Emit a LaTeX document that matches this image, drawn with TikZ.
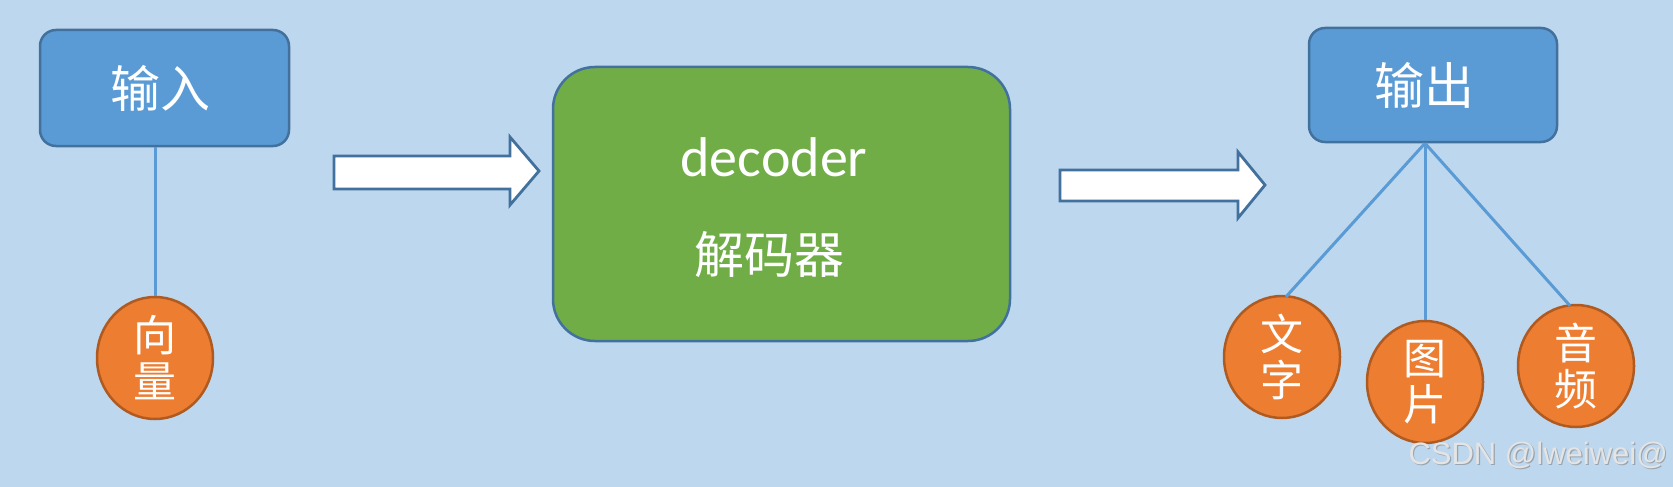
\documentclass[tikz,border=0pt]{standalone}
\usepackage{fontspec}
\setmainfont{Carlito}
\newfontfamily\cjk{Noto Sans CJK SC}
\newfontfamily\wmfont{Liberation Sans}
\definecolor{bg}{HTML}{BDD7EE}
\definecolor{boxfill}{HTML}{5B9BD5}
\definecolor{boxline}{HTML}{41719C}
\definecolor{greenfill}{HTML}{70AD47}
\definecolor{orangefill}{HTML}{ED7D31}
\definecolor{orangeline}{HTML}{AE5A21}
\definecolor{wmgray}{HTML}{E4E4E4}
\definecolor{wmshadow}{HTML}{9AA4AE}
\tikzset{
  bluebox/.style={draw=boxline, line width=2.5pt, fill=boxfill, rounded corners=16pt, inner sep=0pt},
  boxtext/.style={text=white, font=\cjk\fontsize{50}{50}\selectfont, inner sep=0pt},
  decbox/.style={draw=boxline, line width=2.5pt, fill=greenfill, rounded corners=42pt, inner sep=0pt},
  circ/.style={ellipse, draw=orangeline, line width=2.5pt, fill=orangefill, inner sep=0pt,
    minimum width=116pt, minimum height=122pt, text=white, align=center,
    font=\cjk\fontsize{43}{46}\selectfont},
  conn/.style={draw=boxfill, line width=3pt},
  blockarrow/.style={draw=boxline, line width=2.8pt, fill=white, line join=miter},
  dectext/.style={text=white, inner sep=0pt},
  wmstyle/.style={anchor=east, inner sep=0pt, font=\wmfont\fontsize{31}{31}\selectfont}
}
\usetikzlibrary{shapes.geometric}
\begin{document}
\begin{tikzpicture}[x=1pt,y=-1pt]
\fill[bg] (0,0) rectangle (1673,487);
\useasboundingbox (0,0) rectangle (1673,487);

% input side
\node[bluebox, minimum width=249pt, minimum height=116pt] (in) at (164.5,88) {};
\node[boxtext] (intext) at (160,88) {输入};
\node[circ] (vec) at (155,358) {向\\量};
\draw[conn] (vec.north |- in.south) -- (vec.north);

% arrow 1
\draw[blockarrow] (334,156) -- (510,156) -- (510,137) -- (539,171) -- (510,205) -- (510,189) -- (334,189) -- cycle;

% decoder
\node[decbox, minimum width=457pt, minimum height=274pt] (dec) at (781.5,204) {};
\node[dectext, anchor=base, font=\fontsize{56}{56}\selectfont] (decen) at (774,176) {decoder};
\node[dectext, font=\cjk\fontsize{50}{50}\selectfont] (deczh) at (769,255) {解码器};

% arrow 2
\draw[blockarrow] (1060,170) -- (1238,170) -- (1238,152) -- (1265,185) -- (1238,218) -- (1238,201) -- (1060,201) -- cycle;

% output side
\node[bluebox, minimum width=248pt, minimum height=114pt] (out) at (1433,85) {};
\node[boxtext] (outtext) at (1424,85) {输出};
\node[circ] (wz) at (1282,357) {文\\字};
\node[circ] (tp) at (1425,382) {图\\片};
\node[circ] (yp) at (1576,366) {音\\频};
\coordinate (hub) at (tp.north |- out.south);
\draw[conn] (hub) -- ([xshift=4pt,yshift=-2pt]wz.north);
\draw[conn] (hub) -- (tp.north);
\draw[conn] (hub) -- ([xshift=-6pt,yshift=-2pt]yp.north);

% watermark
\node[wmstyle, text=wmshadow] (wmsh) at (1669.2,456.2) {CSDN @lweiwei@};
\node[wmstyle, text=wmgray] (wm) at (1668,455) {CSDN @lweiwei@};
\end{tikzpicture}
\end{document}
